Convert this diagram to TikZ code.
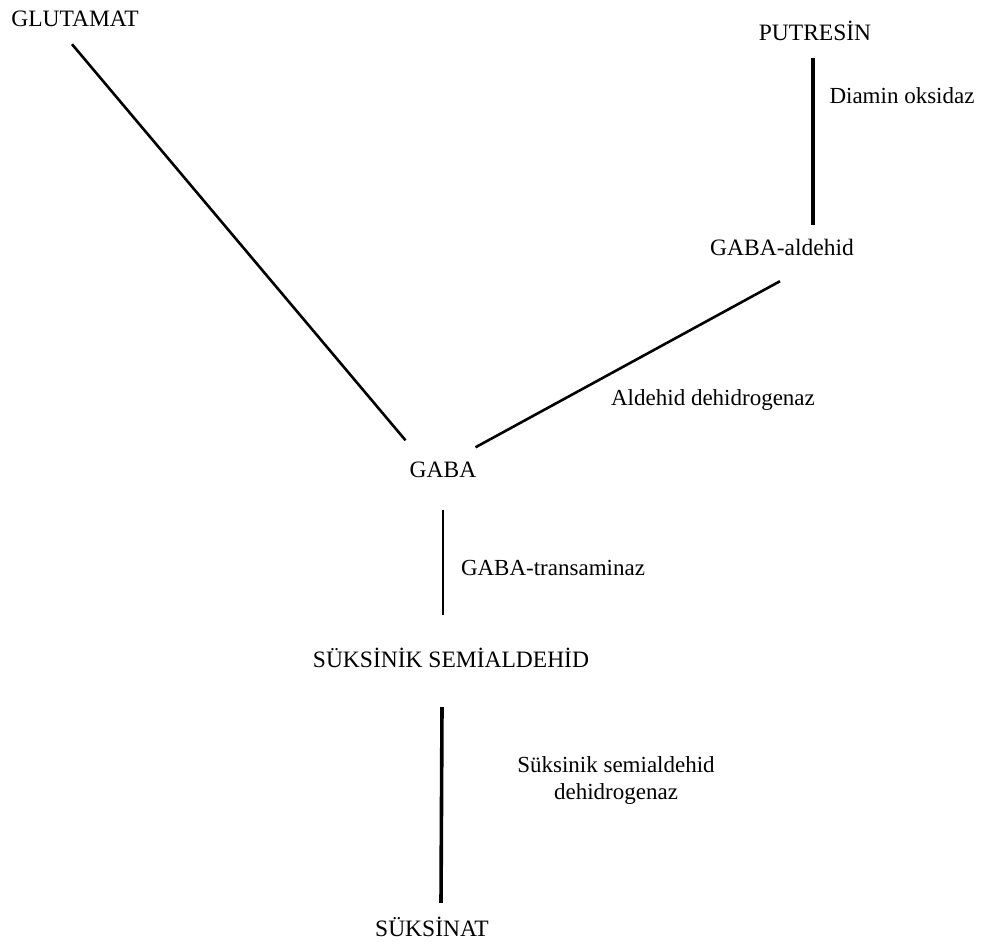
\documentclass[tikz,border=0pt]{standalone}
\usepackage{fontspec}
\setmainfont{Liberation Serif}
\usetikzlibrary{calc}
\begin{document}
\begin{tikzpicture}[x=1pt,y=-1pt,
  metab/.style={inner sep=0pt,text height=15pt,text depth=0pt,font=\fontsize{23.5}{27}\selectfont},
  enz/.style={inner sep=0pt,text height=15pt,text depth=0pt,font=\fontsize{23}{27}\selectfont},
  link/.style={line width=2.6pt},
  thicklink/.style={line width=3.6pt}]
\useasboundingbox (0,0) rectangle (987,948);
\node[metab] (glu) at (75,18.5) {GLUTAMAT};
\node[metab] (put) at (815,32.5) {PUTRESİN};
\node[enz] (dao) at (902,95.5) {Diamin oksidaz};
\node[metab] (ald) at (782,247.5) {GABA-aldehid};
\node[enz] (aldh) at (713,397.5) {Aldehid dehidrogenaz};
\node[metab] (gaba) at (443,470) {GABA};
\node[enz] (gt) at (553,568) {GABA-transaminaz};
\node[metab] (ssa) at (451,660) {SÜKSİNİK SEMİALDEHİD};
\node[inner sep=0pt,anchor=north,align=center,font=\fontsize{23}{27}\selectfont] (ssadh) at (616,756) {Süksinik semialdehid\\dehidrogenaz};
\node[metab] (suk) at (432,929) {SÜKSİNAT};
\draw[link] ($(glu.south)+(-3,18)$) -- ($(gaba.north west)+(-4,-22)$);
\draw[thicklink] ($(put.south)+(-2,18)$) -- ($(ald.north)+(31,-15)$);
\draw[link] ($(ald.south)+(-2,26)$) -- ($(gaba.north east)+(-1,-15)$);
\draw[link] ($(gaba.south)+(0,32.5)$) -- ($(ssa.north)+(-8,-37.5)$);
\draw[thicklink] ($(ssa.south)+(-9,39.5)$) -- ($(suk.north)+(9,-18.5)$);
\end{tikzpicture}
\end{document}
